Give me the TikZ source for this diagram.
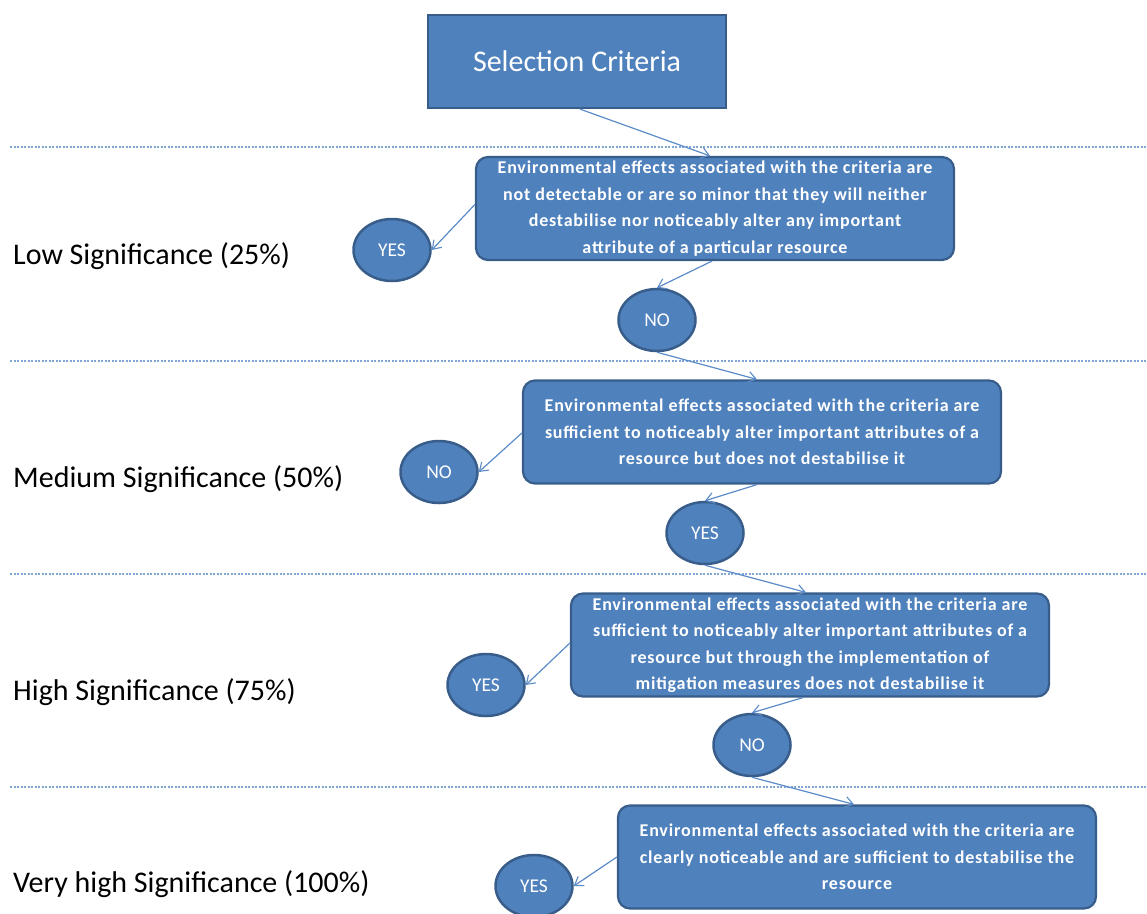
\documentclass[tikz,border=0pt]{standalone}
\usepackage{fontspec}
\setmainfont{Carlito}
\newfontfamily\boxfont{Carlito Bold}[LetterSpace=4.5]
\usetikzlibrary{arrows.meta,shapes.geometric}
\definecolor{boxfill}{HTML}{4F81BD}
\definecolor{boxline}{HTML}{385D8A}
\definecolor{arrowc}{HTML}{5B8BC9}
\definecolor{dashc}{HTML}{7FA6D6}
\tikzset{
  critbox/.style={draw=boxline, fill=boxfill, line width=2.2pt, rounded corners=12pt,
    minimum width=478pt, minimum height=103pt, inner sep=0pt, align=center,
    text=white, font=\boxfont\fontsize{18}{26.5}\selectfont},
  answer/.style={ellipse, draw=boxline, fill=boxfill, line width=2.5pt,
    minimum width=77pt, minimum height=62pt, inner sep=0pt, text=white,
    font=\fontsize{19.5}{22}\selectfont},
  flow/.style={draw=arrowc, line width=1.2pt, -{Straight Barb[length=8pt,width=11pt,line width=1.1pt]}},
  sep/.style={draw=dashc, line width=1.1pt, dash pattern=on 2.2pt off 1.3pt},
  level/.style={anchor=west, inner sep=0pt, text=black, font=\fontsize{30}{34}\selectfont}
}
\begin{document}
\begin{tikzpicture}[x=1pt,y=-1pt]
\useasboundingbox (0,0) rectangle (1147,913);
% dashed separators
\coordinate (s1a) at (10,147); \coordinate (s1b) at (1147,147);
\coordinate (s2a) at (10,361); \coordinate (s2b) at (1147,361);
\coordinate (s3a) at (10,574); \coordinate (s3b) at (1147,574);
\coordinate (s4a) at (10,787); \coordinate (s4b) at (1147,787);
\draw[sep] (s1a) -- (s1b);
\draw[sep] (s2a) -- (s2b);
\draw[sep] (s3a) -- (s3b);
\draw[sep] (s4a) -- (s4b);

% title
\node[draw=boxline, fill=boxfill, line width=2.2pt, minimum width=298pt, minimum height=93pt,
  inner sep=0pt, text=white, font=\fontsize{30}{34}\selectfont] (sc) at (577,61.5) {Selection Criteria};

% level labels
\node[level] (l1) at (13,256) {Low Significance (25\%)};
\node[level] (l2) at (13,479) {Medium Significance (50\%)};
\node[level] (l3) at (13,692) {High Significance (75\%)};
\node[level] (l4) at (13,884) {Very high Significance (100\%)};

% criteria boxes
\node[critbox] (b1) at (715,208.5) {Environmental effects associated with the criteria are\\not detectable or are so minor that they will neither\\destabilise nor noticeably alter any important\\attribute of a particular resource};
\node[critbox] (b2) at (762,432) {Environmental effects associated with the criteria are\\sufficient to noticeably alter important attributes of a\\resource but does not destabilise it};
\node[critbox] (b3) at (810,645) {Environmental effects associated with the criteria are\\sufficient to noticeably alter important attributes of a\\resource but through the implementation of\\mitigation measures does not destabilise it};
\node[critbox] (b4) at (857,857) {Environmental effects associated with the criteria are\\clearly noticeable and are sufficient to destabilise the\\resource};

% answers
\node[answer] (y1) at (392,250) {YES};
\node[answer] (n1) at (657,320) {NO};
\node[answer] (n2) at (439,472) {NO};
\node[answer] (y2) at (705,533) {YES};
\node[answer] (y3) at (486,685) {YES};
\node[answer] (n3) at (752,745) {NO};
\node[answer] (y4) at (534,886) {YES};

% connectors
\draw[flow] ([xshift=3pt]sc.south) -- ([xshift=-5pt]b1.north);
\draw[flow] ([yshift=4pt]b1.west) -- (y1.east);
\draw[flow] ([xshift=-3pt]b1.south) -- (n1.north);
\draw[flow] (n1.south) -- ([xshift=-5pt]b2.north);
\draw[flow] ([yshift=-1pt]b2.west) -- (n2.east);
\draw[flow] ([xshift=-5pt]b2.south) -- (y2.north);
\draw[flow] (y2.south) -- ([xshift=-4pt]b3.north);
\draw[flow] ([yshift=2pt]b3.west) -- (y3.east);
\draw[flow] ([xshift=-7pt]b3.south) -- (n3.north);
\draw[flow] (n3.south) -- ([xshift=-3pt]b4.north);
\draw[flow] ([yshift=0pt]b4.west) -- (y4.east);
\end{tikzpicture}
\end{document}
